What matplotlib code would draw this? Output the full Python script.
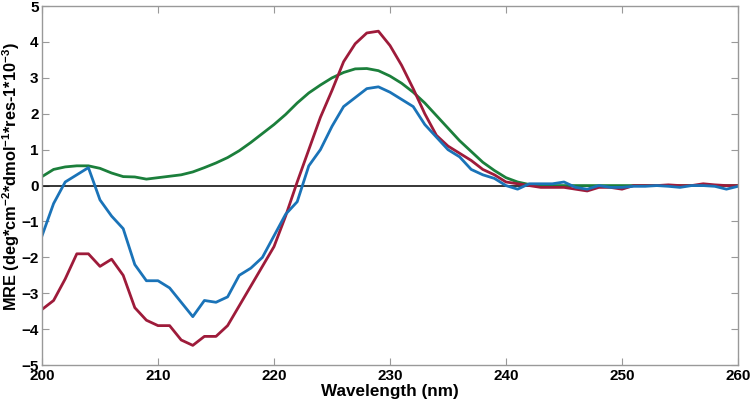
import numpy as np
import matplotlib
matplotlib.use("Agg")
import matplotlib.pyplot as plt

# Wavelength axis, 1 nm steps
wavelength = np.arange(200, 261)

# MRE values (x 10^-3)
blue = [-1.4, -0.5, 0.1, 0.3, 0.5, -0.4, -0.85, -1.2, -2.2, -2.65,
        -2.65, -2.85, -3.25, -3.65, -3.2, -3.25, -3.1, -2.5, -2.3, -2.0,
        -1.4, -0.8, -0.45, 0.55, 1.0, 1.65, 2.2, 2.45, 2.7, 2.75,
        2.6, 2.4, 2.2, 1.7, 1.35, 1.0, 0.8, 0.45, 0.3, 0.2,
        0.0, -0.1, 0.05, 0.05, 0.05, 0.1, -0.05, -0.1, 0.0, -0.05,
        -0.05, -0.02, -0.02, 0.0, -0.02, -0.05, 0.0, 0.0, -0.02, -0.1,
        -0.02]
red = [-3.45, -3.2, -2.6, -1.9, -1.9, -2.25, -2.05, -2.5, -3.4, -3.75,
       -3.9, -3.9, -4.3, -4.45, -4.2, -4.2, -3.9, -3.35, -2.8, -2.25,
       -1.7, -0.85, 0.1, 1.0, 1.9, 2.65, 3.45, 3.95, 4.25, 4.3,
       3.9, 3.35, 2.7, 2.0, 1.4, 1.1, 0.9, 0.7, 0.45, 0.3,
       0.1, 0.05, 0.0, -0.05, -0.05, -0.05, -0.1, -0.15, -0.05, -0.05,
       -0.1, 0.0, 0.0, 0.0, 0.02, 0.0, 0.0, 0.05, 0.02, 0.0,
       0.0]
green = [0.25, 0.45, 0.52, 0.55, 0.55, 0.48, 0.35, 0.25, 0.24, 0.18,
         0.22, 0.26, 0.3, 0.38, 0.5, 0.63, 0.78, 0.97, 1.2, 1.45,
         1.7, 1.98, 2.3, 2.58, 2.8, 3.0, 3.15, 3.25, 3.26, 3.2,
         3.05, 2.85, 2.6, 2.3, 1.95, 1.6, 1.25, 0.95, 0.65, 0.42,
         0.22, 0.1, 0.03, 0.0, 0.0, 0.0, 0.0, 0.0, 0.0, 0.0,
         0.0, 0.0, 0.0, 0.0, 0.0, 0.0, 0.0, 0.0, 0.0, 0.0,
         0.0]

plt.rcParams['font.family'] = ['Liberation Sans', 'DejaVu Sans']
plt.rcParams['font.weight'] = 'bold'
plt.rcParams['mathtext.fontset'] = 'custom'
plt.rcParams['mathtext.rm'] = 'Liberation Sans:bold'
plt.rcParams['mathtext.bf'] = 'Liberation Sans:bold'
plt.rcParams['mathtext.default'] = 'bf'

fig = plt.figure(figsize=(7.5, 4.03), dpi=100)
ax = fig.add_axes([0.056, 0.094, 0.928, 0.891])

ax.axhline(0, color="k", linewidth=1.1)
ax.plot(wavelength, green, color="#1b7f3b", linewidth=2)
ax.plot(wavelength, red, color="#9e1b3a", linewidth=2)
ax.plot(wavelength, blue, color="#1a73b8", linewidth=2)

ax.set_xlim(200, 260)
ax.set_ylim(-5, 5)
ax.set_xticks(np.arange(200, 261, 10))
ax.set_yticks(np.arange(-5, 6, 1))
ax.tick_params(direction="in", top=True, right=True, length=5,
               color="#999999", labelsize=11, pad=2.5)
for s in ax.spines.values():
    s.set_color("#999999")
    s.set_linewidth(1)

ax.set_xlabel("Wavelength (nm)", fontsize=12.3, fontweight="bold", labelpad=1)
ax.set_ylabel("MRE (deg*cm$^{-2}$*dmol$^{-1}$*res-1*10$^{-3}$)",
              fontsize=11.8, fontweight="bold")
ax.yaxis.set_label_coords(-0.029, 0.526)

fig.savefig("out.png", dpi=100)
